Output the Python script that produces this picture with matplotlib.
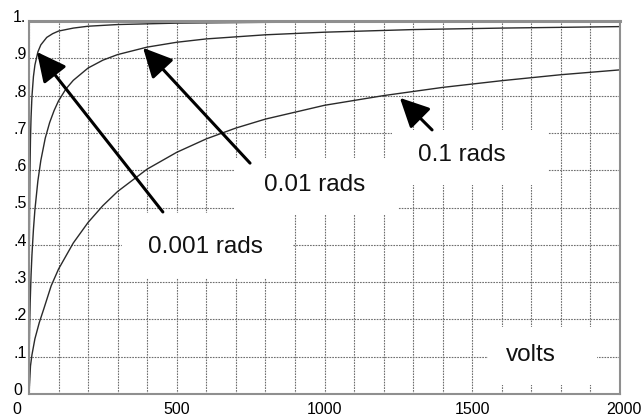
import numpy as np
import matplotlib
matplotlib.use("Agg")
import matplotlib.pyplot as plt
from matplotlib.patches import Rectangle
from matplotlib.transforms import ScaledTranslation

plt.rcParams['font.family'] = ['Liberation Sans', 'DejaVu Sans']

# response vs. applied voltage, one curve per angle
volts_001 = [0, 0.5, 1, 2, 3, 5, 7, 10, 15, 20, 30, 40, 60, 80, 100, 150, 200, 300, 500, 800, 1200, 2000]
resp_001 = [0, 0.284, 0.386, 0.510, 0.587, 0.684, 0.742, 0.798, 0.851, 0.882, 0.917, 0.936, 0.956,
            0.966, 0.973, 0.981, 0.986, 0.9905, 0.9943, 0.9964, 0.9976, 0.9986]

volts_01 = [0, 1, 2, 4, 7, 10, 15, 20, 30, 40, 55, 70, 85, 100, 125, 150, 200, 250, 300, 400, 500,
            600, 800, 1000, 1300, 1600, 2000]
resp_01 = [0, 0.126, 0.177, 0.246, 0.319, 0.373, 0.441, 0.494, 0.571, 0.626, 0.686, 0.728, 0.760,
           0.786, 0.818, 0.841, 0.874, 0.895, 0.910, 0.930, 0.943, 0.952, 0.963, 0.970, 0.977, 0.981, 0.985]

volts_1 = [0, 5, 10, 20, 35, 50, 75, 100, 150, 200, 250, 300, 400, 500, 600, 700, 800, 1000, 1200,
           1400, 1600, 1800, 2000]
resp_1 = [0, 0.075, 0.105, 0.148, 0.192, 0.228, 0.290, 0.335, 0.405, 0.460, 0.505, 0.543, 0.603,
          0.648, 0.684, 0.713, 0.737, 0.774, 0.800, 0.822, 0.840, 0.856, 0.869]

x_ticks = [0, 500, 1000, 1500, 2000]
x_labels = ['0', '500', '1000', '1500', '2000']
y_ticks = [0, 0.1, 0.2, 0.3, 0.4, 0.5, 0.6, 0.7, 0.8, 0.9, 1.0]
y_labels = ['0', '.1', '.2', '.3', '.4', '.5', '.6', '.7', '.8', '.9', '1.']

# label text, text centre, arrow tip, arrow tail, white box (x0, y0, x1, y1)
notes = [
    ('0.001 rads', (596, 0.394), (27, 0.917), (453, 0.488), (315, 0.311, 893, 0.485)),
    ('0.01 rads', (968, 0.560), (386, 0.928), (748, 0.619), (697, 0.480, 1249, 0.633)),
    ('0.1 rads', (1465, 0.641), (1255, 0.794), (1364, 0.708), (1228, 0.560, 1756, 0.708)),
    ('volts', (1699, 0.105), None, None, (1553, 0.024, 1922, 0.180)),
]

fig = plt.figure(figsize=(6.42, 4.17), dpi=100)
ax = fig.add_axes([29 / 642, 1 - 394 / 417, 591 / 642, 373 / 417])

for v, r in [(volts_001, resp_001), (volts_01, resp_01), (volts_1, resp_1)]:
    ax.plot(v, r, color='#2a2a2a', lw=1.0, zorder=2)

ax.set_xlim(0, 2000)
ax.set_ylim(0, 1)
ax.set_xticks(x_ticks)
ax.set_xticklabels(x_labels)
ax.set_xticks(np.arange(0, 2001, 100), minor=True)
ax.set_yticks(y_ticks)
ax.set_yticklabels(y_labels)

ax.set_axisbelow(True)
ax.grid(which='both', color='#6e6e6e', lw=0.8, linestyle=(0, (1.5, 1)))
ax.tick_params(which='both', length=0, labelsize=11.5, colors='black')
ax.tick_params(axis='x', pad=6)
ax.tick_params(axis='y', pad=11.5)

for lab in ax.get_yticklabels():
    lab.set_horizontalalignment('left')
    lab.set_transform(lab.get_transform() + ScaledTranslation(0, 5 / 100, fig.dpi_scale_trans))
xl = ax.get_xticklabels()
xl[0].set_transform(xl[0].get_transform() + ScaledTranslation(-12 / 100, 0, fig.dpi_scale_trans))
xl[-1].set_transform(xl[-1].get_transform() + ScaledTranslation(4 / 100, 0, fig.dpi_scale_trans))

for sp in ax.spines.values():
    sp.set_color('#8f8f8f')
    sp.set_linewidth(1.5)
ax.spines['top'].set_linewidth(2.2)

for text, pos, tip, tail, box in notes:
    x0, y0, x1, y1 = box
    ax.add_patch(Rectangle((x0, y0), x1 - x0, y1 - y0, facecolor='white', edgecolor='none', zorder=1))
    ax.text(pos[0], pos[1], text, fontsize=17.5, ha='center', va='center', color='#111', zorder=4)
    if tip is not None:
        ax.annotate('', xy=tip, xytext=tail, zorder=3,
                    arrowprops=dict(arrowstyle='-|>,head_length=0.85,head_width=0.42',
                                    color='black', lw=2.2, shrinkA=0, shrinkB=0,
                                    mutation_scale=21))

fig.savefig('out.png', dpi=100)
